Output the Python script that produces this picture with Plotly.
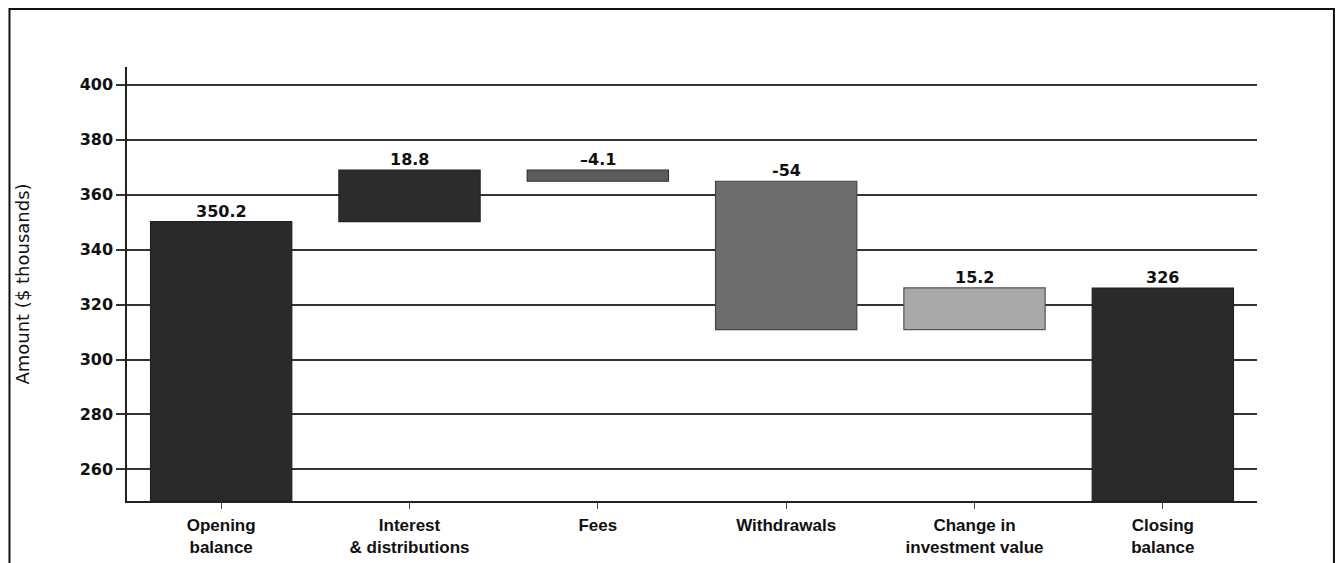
import plotly.graph_objects as go

categories = ["Opening<br>balance", "Interest<br>&amp; distributions", "Fees", "Withdrawals",
              "Change in<br>investment value", "Closing<br>balance"]
values = [350.2, 18.8, -4.1, -54, 15.2, 326]
kinds = ["total", "relative", "relative", "relative", "relative", "total"]
labels = ["350.2", "18.8", "\u20134.1", "-54", "15.2", "326"]
colors = ["#2a2a2a", "#2c2c2c", "#5c5c5c", "#6e6e6e", "#a9a9a9", "#2a2a2a"]
line_colors = ["#222222", "#222222", "#333333", "#444444", "#555555", "#222222"]
ytick_vals = [260, 280, 300, 320, 340, 360, 380, 400]

NUM_FONT = dict(family="DejaVu Sans", size=16, color="#111")

# compute bases from data
bases, heights, tops = [], [], []
running = 0.0
y_floor = 248.5
for v, k in zip(values, kinds):
    if k == "total":
        bases.append(y_floor)
        heights.append(v - y_floor)
        tops.append(v)
        running = v
    else:
        start = running
        running = running + v
        bases.append(min(start, running))
        heights.append(abs(v))
        tops.append(max(start, running))

x_idx = list(range(len(categories)))

fig = go.Figure()
fig.add_trace(go.Bar(
    x=x_idx, y=heights, base=bases, width=0.75,
    marker=dict(color=colors, line=dict(color=line_colors, width=1.2)),
    hoverinfo="skip", showlegend=False,
))

for i, (t, lab) in enumerate(zip(tops, labels)):
    fig.add_annotation(x=i, y=t, text="<b>%s</b>" % lab, showarrow=False, yanchor="bottom",
                       yshift=-1, font=NUM_FONT)

# outer frame (left, top, right)
fig.add_shape(type="path", xref="paper", yref="paper",
              path="M -0.104 -0.2 L -0.104 1.1336 L 1.0681 1.1336 L 1.0681 -0.2",
              line=dict(color="#111", width=2))

fig.update_layout(
    width=1343, height=563,
    margin=dict(l=119, r=94, t=59, b=70),
    paper_bgcolor="white", plot_bgcolor="white",
    font=dict(family="DejaVu Sans", size=16, color="#111"),
)
fig.update_xaxes(
    range=[-0.5, 5.5], tickvals=x_idx, ticktext=["<b>%s</b>" % c for c in categories],
    showline=True, linecolor="#222", linewidth=1.5,
    ticks="outside", ticklen=6, tickcolor="#444", tickwidth=1,
    showgrid=False, zeroline=False, ticklabelstandoff=2,
    tickfont=dict(family="Liberation Sans", size=17, color="#111"),
)
fig.update_yaxes(
    range=[248.5, 406.5], tickvals=ytick_vals,
    ticktext=["<b>%d</b>" % v for v in ytick_vals],
    showline=True, linecolor="#222", linewidth=1.5,
    showgrid=True, gridcolor="#333", gridwidth=1.5,
    ticks="outside", ticklen=9, tickcolor="#333", tickwidth=1.5,
    zeroline=False,
    title=dict(text="Amount ($ thousands)", font=dict(family="DejaVu Sans", size=18, color="#111"), standoff=45),
    tickfont=NUM_FONT,
)

fig.write_html("out.html")
